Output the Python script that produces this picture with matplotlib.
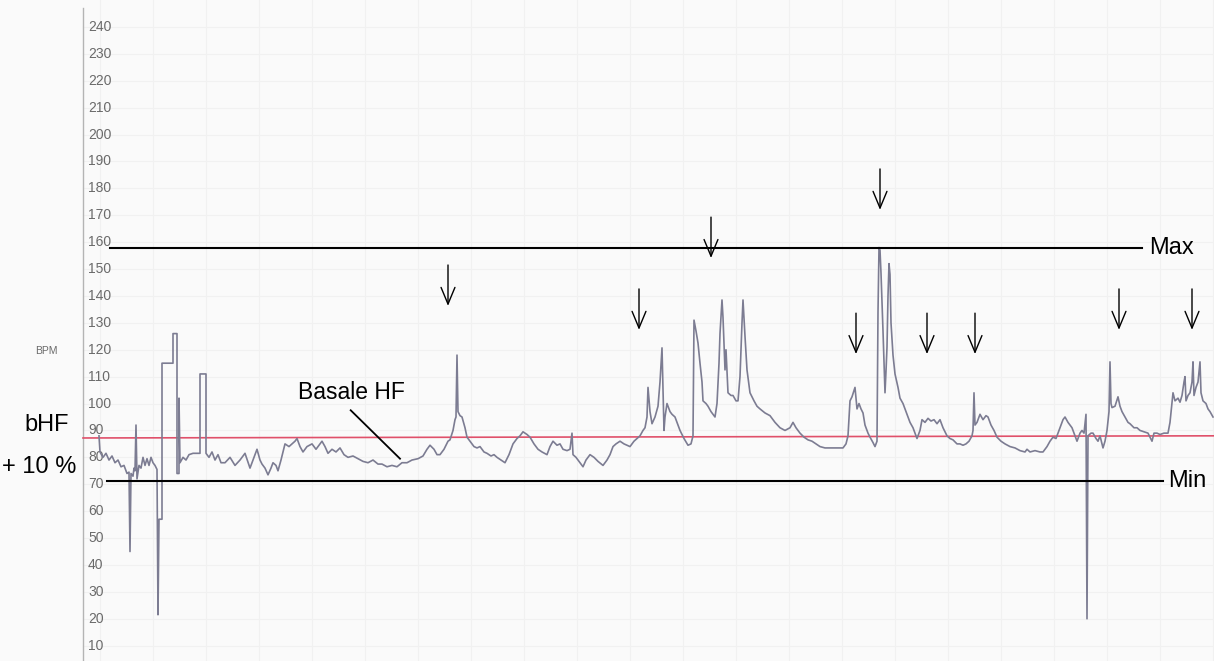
import matplotlib
matplotlib.use("Agg")
from matplotlib import pyplot as plt
import numpy as np

plt.rcParams['font.family'] = ['Liberation Sans', 'DejaVu Sans']

# heart rate trace: time (arbitrary units) and BPM
t = [99, 100, 103, 106, 109, 112, 115, 118, 121, 124, 127, 129, 130, 131, 133,
     134, 135, 136, 137, 139, 141, 143, 145, 147, 149, 151, 153, 155, 157, 158,
     159, 162, 162, 173, 173, 177, 177, 179, 179, 180, 183, 186, 189, 193, 200,
     200, 206, 206, 209, 212, 215, 218, 221, 225,
     230, 235, 240, 245, 250, 254, 257, 260, 262, 265, 268, 271, 273, 276, 278,
     281, 285, 289, 292, 295, 297, 300, 303, 307, 312, 316, 322, 325, 328, 332,
     336, 340, 344, 348, 353, 358, 363, 368, 373, 378, 382, 387, 392, 397, 402,
     407, 412, 418, 423, 427, 430, 434, 437, 440, 444, 448, 450, 453, 455, 456,
     457, 458, 460, 462, 465, 467, 470, 474, 477, 480, 484, 487, 491, 494, 497,
     501, 505, 509, 513, 517, 520, 523, 527, 530, 534, 538, 542, 547, 550, 553,
     557, 560, 563, 567, 570, 572, 573, 576, 580, 583, 586, 590, 594, 598, 603,
     607, 610, 613, 616, 620, 624, 627, 630, 634, 637, 640, 643, 645, 647, 648,
     650, 652, 655, 658, 660, 662, 663, 664, 665, 667, 670, 672, 675, 678, 680,
     684, 688, 691, 693, 694, 696, 698, 700, 702, 703, 706, 708, 711, 715, 717,
     719, 720, 722, 723, 725, 726, 728, 731, 733, 736, 738, 740, 742, 743, 745,
     747, 750, 754, 757, 760, 765, 770, 775, 780, 785, 790, 793, 796, 800, 804,
     808, 812, 816, 820, 825, 830, 835, 840, 843, 846, 848, 850, 852, 855, 857,
     859, 861, 863, 865, 868, 870, 873, 875, 877, 878, 879, 880, 881, 883, 885,
     886, 887, 888, 889, 890, 891, 893, 895, 898, 900, 903, 907, 910, 913, 917,
     920, 922, 925, 928, 931, 934, 937, 940, 943, 947, 950, 953, 957, 960, 963,
     966, 969, 972, 973, 974, 975, 977, 979, 980, 983, 986, 988, 991, 994, 997,
     1001, 1005, 1010, 1015, 1020, 1025, 1027, 1030, 1035, 1040, 1043, 1047, 1050, 1053, 1056,
     1060, 1063, 1065, 1068, 1070, 1072, 1075, 1077, 1080, 1082, 1084, 1086, 1087, 1088, 1091,
     1093, 1096, 1098, 1100, 1103, 1105, 1107, 1109, 1110, 1111, 1112, 1115, 1118, 1120, 1122,
     1125, 1128, 1130, 1134, 1137, 1140, 1144, 1148, 1152, 1154, 1157, 1160, 1164, 1168, 1170,
     1173, 1175, 1178, 1180, 1182, 1184, 1185, 1186, 1188, 1190, 1192, 1193, 1194, 1196, 1198,
     1200, 1201, 1203, 1206, 1208, 1210, 1213]
hr = [88, 82, 80, 81.5, 79, 80.5, 78, 79, 76.5, 77, 74, 74.5, 45, 74, 73,
      76, 75, 92, 72, 77, 76, 80, 77, 79.5, 77, 80, 78, 77, 75.5, 21.5,
      57, 57, 115, 115, 126, 126, 74, 74, 102, 78, 80, 79, 81, 81.5, 81.5,
      111, 111, 81.5, 80, 82, 79, 81, 78, 78,
      80, 77, 79, 81.5, 76, 80, 83, 79, 77.5, 76, 73.5, 76, 78, 77, 75,
      79, 85, 84, 85, 86, 87, 84, 82, 84, 85, 83, 86, 84, 81.5, 83,
      82, 83.5, 81, 80, 80.5, 79.5, 78.5, 78, 79, 77.5, 77.5, 76.5, 77, 76.5, 78,
      78, 79, 79.5, 80.5, 83, 84.5, 83, 81, 81, 83, 86, 86.5, 90, 94, 95,
      118, 97, 95.5, 95, 91, 87.5, 86, 84, 83.5, 84, 82, 81.5, 80.5, 81, 80,
      79, 78, 81, 85, 87, 88, 89.5, 88.5, 87.5, 85, 83, 82, 81, 84, 86,
      84.5, 85, 83, 82.5, 83, 89, 81, 80, 78, 76.5, 79, 81, 80, 78.5, 77,
      79, 81, 84, 85, 86, 85, 84.5, 84, 86, 87, 88, 90, 91, 95, 106,
      97, 92.5, 95, 99, 108, 120.7, 105, 90, 95, 100, 97, 96, 95, 92, 90,
      87, 84.5, 85, 88, 131, 127, 122.5, 115, 108, 101, 100, 99, 97, 95, 100,
      115, 126, 138.5, 132, 112.5, 120, 104, 103, 103, 101, 101, 110, 130, 138.5, 125,
      112.5, 104, 101, 99, 98, 96.5, 95.5, 93, 91, 90, 91, 93, 91, 89, 87.5,
      86.5, 86, 85, 84, 83.5, 83.5, 83.5, 83.5, 83.5, 85, 88, 101, 102.5, 106, 98,
      100, 98, 96.5, 92, 89, 87.5, 85.5, 84, 86, 134, 158, 157, 148.5, 127, 104,
      112, 121, 140, 152, 148, 130, 118, 111, 106, 102, 100, 96, 93, 91, 87,
      90, 94, 93, 94.5, 93.5, 94, 92.5, 94, 91, 88, 87, 86.5, 85, 85, 84.5,
      85, 86, 88, 90, 104, 92, 93, 95, 96, 94, 95.5, 95, 92, 90, 87.5,
      86, 85, 84, 83.5, 82.5, 82, 83, 82, 82.5, 82, 82, 84, 86, 87.5, 87,
      91, 94, 95, 93, 92, 91, 88, 86, 89, 90, 89, 96, 20, 88, 89,
      89, 87, 86, 88, 83.5, 86, 90, 97, 115.5, 100, 98.5, 99, 102.5, 99, 97,
      95, 93, 92.5, 91, 91, 90, 89.5, 89, 86, 89, 89, 88.5, 89, 89, 93,
      104, 101, 102, 100.5, 103, 108, 110, 101, 103, 104, 108, 115.5, 103, 106, 108,
      115.5, 104, 101, 100, 98, 97, 95]

yticks = list(range(10, 250, 10))
max_hr = 157.7
min_hr = 71.3
bhf = [87.2, 88.0]  # basal HF + 10 %, start/end of the red line

# arrows marking the events: x position and tip (BPM)
arrow_x = [448, 639, 711, 880, 856, 927, 975, 1119, 1192]
arrow_tip = [136.3, 127.4, 154.1, 172.0, 118.4, 118.4, 118.4, 127.4, 127.4]
arrow_len = 15.2

fig = plt.figure(figsize=(12.14, 6.61), dpi=100)
fig.patch.set_facecolor('#fafafa')
ax = fig.add_axes([0, 0, 1, 1])
ax.set_xlim(0, 1214)
ax.set_ylim(4.3, 250)
ax.axis('off')

# faint chart-paper grid
for v in yticks:
    ax.plot([83, 1214], [v, v], color='#f1f1f1', lw=0.8, zorder=0)
for gx in np.arange(100, 1214, 53):
    ax.plot([gx, gx], [4.3, 250], color='#f1f1f1', lw=0.8, zorder=0)

# y axis
ax.plot([83, 83], [4.3, 247], color='#b4b4b4', lw=1.0)
for v in yticks:
    ax.text(88, v, str(v), ha='left', va='center', fontsize=10, color='#6a6a6a')
ax.text(35, 119.5, 'BPM', ha='left', va='center', fontsize=7.5, color='#6a6a6a')

# trace
ax.plot(t, hr, color='#7c7c92', lw=1.2, zorder=3)

# reference lines
ax.plot([83, 1214], bhf, color='#e0506a', lw=1.2, zorder=2)
ax.plot([110, 1142], [max_hr, max_hr], color='black', lw=1.5, zorder=4)
ax.plot([107, 1163], [min_hr, min_hr], color='black', lw=1.5, zorder=4)

ax.text(1149, max_hr, 'Max', ha='left', va='center', fontsize=17)
ax.text(1168, min_hr, 'Min', ha='left', va='center', fontsize=17)
ax.text(47, 92, 'bHF', ha='center', va='center', fontsize=17)
ax.text(2, 76.4, '+ 10 %', ha='left', va='center', fontsize=17)
ax.text(298, 104, 'Basale HF', ha='left', va='center', fontsize=16.5)
ax.plot([350.7, 400], [97.5, 79.5], color='black', lw=1.3, zorder=4)

for x, tip in zip(arrow_x, arrow_tip):
    ax.annotate('', xy=(x, tip), xytext=(x, tip + arrow_len),
                arrowprops=dict(arrowstyle='->, head_length=1.2, head_width=0.5',
                                lw=1.0, color='black', shrinkA=0, shrinkB=0))

fig.savefig('out.png', dpi=100, facecolor=fig.get_facecolor())
